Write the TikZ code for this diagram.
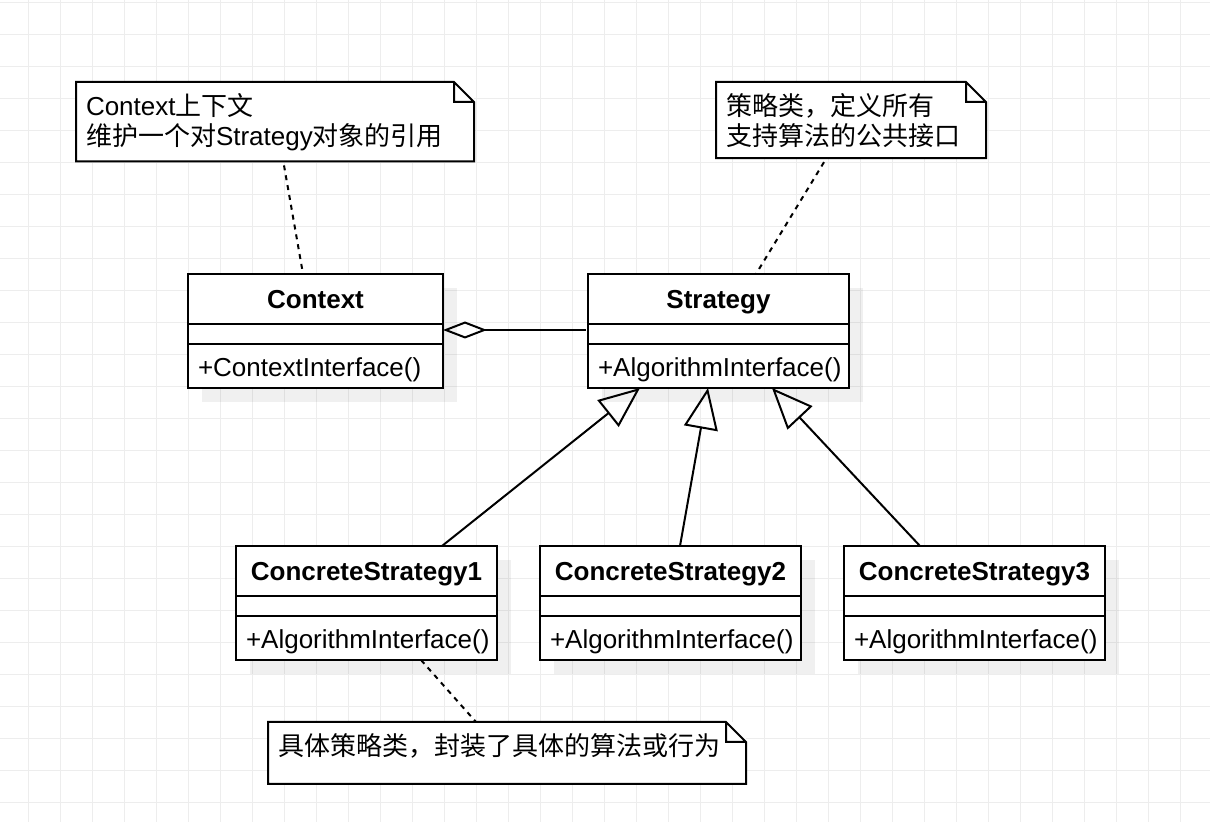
\documentclass[tikz,border=0pt]{standalone}
\usepackage{fontspec}
\setmainfont{Liberation Sans}
\newfontfamily\cjk{Noto Sans CJK SC}
\usetikzlibrary{positioning,calc}
\usetikzlibrary{arrows.meta}
\usetikzlibrary{shadows}
\tikzset{
  every picture/.style={
    line width=1pt,
    font=\fontsize{13pt}{15pt}\selectfont
  },
  gridline/.style={
    line width=0.5pt, draw=black!7
  },
  classbox/.style={
    draw, fill=white, inner sep=0pt, outer sep=0pt,
    drop shadow={shadow xshift=7pt, shadow yshift=-7pt, fill=black, opacity=0.06}
  },
  classtitle/.style={
    classbox, minimum width=#1, minimum height=25pt,
    text height=10pt, text depth=0.7pt,
    font=\fontsize{13pt}{15pt}\selectfont\bfseries
  },
  classattr/.style={
    classbox, minimum width=#1, minimum height=10pt
  },
  classops/.style={
    classbox, inner xsep=5pt, text width=#1,
    text height=11pt, text depth=0.3pt,
    minimum height=22pt, align=left
  },
  note/.style={
    fill=white, inner xsep=5pt, inner ysep=5.5pt, outer sep=0pt,
    anchor=north west, align=left, text width=#1
  },
  dashlink/.style={
    line width=1pt, dash pattern=on 2.5pt off 2.5pt
  },
  inherit/.style={
    -{Triangle[open, length=20.5pt, width=17pt]}
  },
  aggregate/.style={
    {Diamond[open, length=22pt, width=8.5pt]}-
  }
}

\begin{document}
\begin{tikzpicture}[x=0.5pt, y=-0.5pt]
  \fill[white] (0,0) rectangle (1210,822);
  \useasboundingbox (0,0) rectangle (1210,822);
  \foreach \gx in {0,...,37}
    \draw[gridline] (28.5+32*\gx,0) -- (28.5+32*\gx,822);
  \foreach \gy in {0,...,25}
    \draw[gridline] (0,2.5+32*\gy) -- (1210,2.5+32*\gy);

  \node[classtitle=127.5pt, anchor=north west] (ctx) at (188,274) {Context};
  \node[classattr=127.5pt, below=0pt of ctx] (ctxattr) {};
  \node[classops=117.5pt, below=0pt of ctxattr] (ctxops) {+ContextInterface()};

  \node[classtitle=130.5pt, anchor=north west] (strat) at (588,274) {Strategy};
  \node[classattr=130.5pt, below=0pt of strat] (stratattr) {};
  \node[classops=120.5pt, below=0pt of stratattr] (stratops) {+AlgorithmInterface()};

  \foreach \i/\cx in {1/236,2/540,3/844} {
    \node[classtitle=130.5pt, anchor=north west] (cs\i) at (\cx,546) {ConcreteStrategy\i};
    \node[classattr=130.5pt, below=0pt of cs\i] (cs\i attr) {};
    \node[classops=120.5pt, below=0pt of cs\i attr] (cs\i ops) {+AlgorithmInterface()};
  }

  \node[note=189pt, minimum height=39pt] (ctxnote) at (76,82)
    {Context\cjk 上下文\\\cjk 维护一个对\rmfamily Strategy\cjk 对象的引用};
  \node[note=125pt, minimum height=38pt] (stratnote) at (716,82)
    {\cjk 策略类，定义所有\\\cjk 支持算法的公共接口};
  \node[note=229pt, text height=11pt, text depth=9pt] (concnote) at (268,722)
    {\cjk 具体策略类，封装了具体的算法或行为};
  \foreach \n in {ctxnote,stratnote,concnote}
    \draw (\n.north west) -- ([xshift=-10pt]\n.north east)
      -- ([yshift=-10pt]\n.north east) -- (\n.south east)
      -- (\n.south west) -- cycle
      ([xshift=-10pt]\n.north east) |- ([yshift=-10pt]\n.north east);

  \draw[aggregate] ([yshift=-3pt]ctx.south east) -- ([yshift=-3pt, xshift=-1pt]strat.south west);
  \draw[inherit] ([xshift=37.75pt]cs1.north) -- ([xshift=-39.25pt]stratops.south);
  \draw[inherit] ([xshift=4.75pt]cs2.north) -- ([xshift=-5.25pt]stratops.south);
  \draw[inherit] ([xshift=-27.25pt]cs3.north) -- ([xshift=26.75pt]stratops.south);

  \draw[dashlink] ([xshift=4.5pt, yshift=-2pt]ctxnote.south) -- ([xshift=-6.25pt]ctx.north);
  \draw[dashlink] ([xshift=-13.5pt, yshift=-2pt]stratnote.south) -- ([xshift=18.75pt]strat.north);
  \draw[dashlink] ([xshift=27.25pt]cs1ops.south) -- ([xshift=-15.5pt]concnote.north);
\end{tikzpicture}
\end{document}
